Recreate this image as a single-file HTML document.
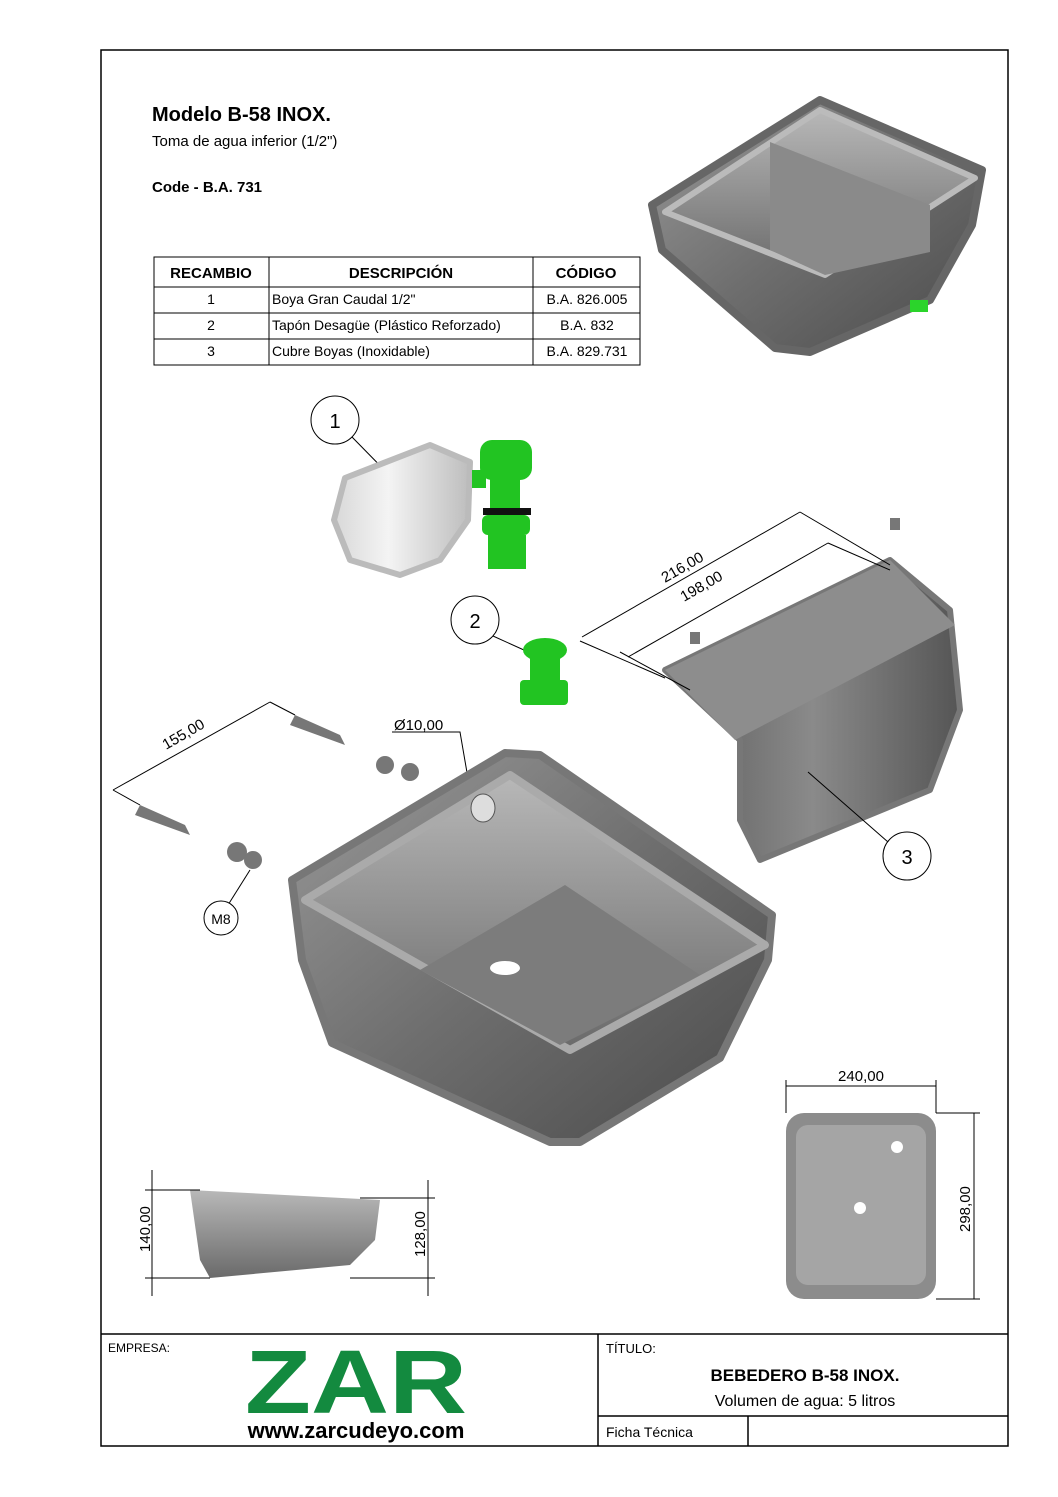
<!DOCTYPE html>
<html><head><meta charset="utf-8"><style>
html,body{margin:0;padding:0;background:#fff;}
svg{display:block;font-family:"Liberation Sans",sans-serif;}
</style></head><body>
<svg width="1058" height="1497" viewBox="0 0 1058 1497" xmlns="http://www.w3.org/2000/svg">
<defs>
<linearGradient id="st" x1="0" y1="0" x2="1" y2="1"><stop offset="0" stop-color="#9a9a9a"/><stop offset="0.5" stop-color="#6e6e6e"/><stop offset="1" stop-color="#4a4a4a"/></linearGradient>
<linearGradient id="st2" x1="0" y1="0" x2="1" y2="0"><stop offset="0" stop-color="#5a5a5a"/><stop offset="0.5" stop-color="#8a8a8a"/><stop offset="1" stop-color="#555"/></linearGradient>
<linearGradient id="in" x1="0" y1="0" x2="0" y2="1"><stop offset="0" stop-color="#b8b8b8"/><stop offset="1" stop-color="#6a6a6a"/></linearGradient>
<linearGradient id="wh" x1="0" y1="0" x2="1" y2="0"><stop offset="0" stop-color="#d8d8d8"/><stop offset="0.4" stop-color="#f4f4f4"/><stop offset="1" stop-color="#bdbdbd"/></linearGradient>
</defs>
<rect x="101" y="50" width="907" height="1396" fill="none" stroke="#000" stroke-width="1.5"/>
<text x="152" y="121" font-size="20" font-weight="bold">Modelo B-58 INOX.</text>
<text x="152" y="146" font-size="15">Toma de agua inferior (1/2")</text>
<text x="152" y="192" font-size="15" font-weight="bold">Code - B.A. 731</text>
<g stroke="#000" stroke-width="1" fill="none">
<rect x="154" y="257" width="486" height="108"/>
<line x1="154" y1="287" x2="640" y2="287"/><line x1="154" y1="313" x2="640" y2="313"/><line x1="154" y1="339" x2="640" y2="339"/>
<line x1="269" y1="257" x2="269" y2="365"/><line x1="533" y1="257" x2="533" y2="365"/>
</g>
<g font-size="15" font-weight="bold" text-anchor="middle"><text x="211" y="278">RECAMBIO</text><text x="401" y="278">DESCRIPCIÓN</text><text x="586" y="278">CÓDIGO</text></g>
<g font-size="14"><text x="211" y="304" text-anchor="middle">1</text><text x="272" y="304">Boya Gran Caudal 1/2"</text><text x="587" y="304" text-anchor="middle">B.A. 826.005</text>
<text x="211" y="330" text-anchor="middle">2</text><text x="272" y="330">Tapón Desagüe (Plástico Reforzado)</text><text x="587" y="330" text-anchor="middle">B.A. 832</text>
<text x="211" y="356" text-anchor="middle">3</text><text x="272" y="356">Cubre Boyas (Inoxidable)</text><text x="587" y="356" text-anchor="middle">B.A. 829.731</text></g>
<!-- top-right sink -->
<path d="M652 205 L820 100 L982 170 L972 225 L930 300 L810 352 L775 348 L662 250 Z" fill="url(#st)" stroke="#666" stroke-width="8" stroke-linejoin="round"/>
<path d="M665 212 L820 110 L975 178 L825 275 Z" fill="url(#in)" stroke="#bbb" stroke-width="6" stroke-linejoin="round"/>
<path d="M770 142 L930 205 L930 252 L825 275 L770 250 Z" fill="#8a8a8a"/>
<rect x="910" y="300" width="18" height="12" fill="#2bd42b"/>
<!-- float part 1 -->
<circle cx="335" cy="420" r="24" fill="#fff" stroke="#000"/><text x="335" y="428" font-size="20" text-anchor="middle">1</text>
<line x1="352" y1="437" x2="398" y2="484" stroke="#000"/>
<path d="M345 478 L430 445 L470 462 L468 520 L440 560 L400 575 L350 560 L334 520 Z" fill="url(#wh)" stroke="#bbb" stroke-width="6" stroke-linejoin="round"/>
<g fill="#22c422"><rect x="480" y="440" width="52" height="40" rx="12"/><rect x="490" y="478" width="30" height="30"/><rect x="472" y="470" width="14" height="18"/><rect x="482" y="515" width="48" height="20" rx="6"/><rect x="488" y="535" width="38" height="34"/></g>
<rect x="483" y="508" width="48" height="7" fill="#111"/>
<!-- part 2 -->
<circle cx="475" cy="620" r="24" fill="#fff" stroke="#000"/><text x="475" y="628" font-size="20" text-anchor="middle">2</text>
<line x1="493" y1="636" x2="535" y2="655" stroke="#000"/>
<g fill="#22c422"><ellipse cx="545" cy="650" rx="22" ry="12"/><rect x="530" y="650" width="30" height="30"/><rect x="520" y="680" width="48" height="25" rx="4"/></g>
<!-- cover 3 -->
<path d="M665 670 L890 560 L950 610 L960 710 L930 790 L760 860 L740 820 L740 740 Z" fill="url(#st2)" stroke="#777" stroke-width="6" stroke-linejoin="round"/>
<path d="M665 670 L890 560 L955 625 L735 740 Z" fill="#8d8d8d"/>
<circle cx="907" cy="856" r="24" fill="#fff" stroke="#000"/><text x="907" y="864" font-size="20" text-anchor="middle">3</text>
<line x1="888" y1="842" x2="808" y2="772" stroke="#000"/>
<g stroke="#000" fill="none"><line x1="582" y1="637" x2="800" y2="512"/><line x1="628" y1="657" x2="828" y2="543"/>
<line x1="580" y1="641" x2="665" y2="678"/><line x1="800" y1="512" x2="890" y2="565"/><line x1="620" y1="652" x2="690" y2="690"/><line x1="828" y1="543" x2="890" y2="570"/></g>
<text x="665" y="583" font-size="15" transform="rotate(-30 665 583)">216,00</text>
<text x="684" y="602" font-size="15" transform="rotate(-30 684 602)">198,00</text>
<!-- screws -->
<g fill="#777"><path d="M295 715 L340 735 L345 745 L290 725 Z"/><path d="M140 805 L185 825 L190 835 L135 815 Z"/><circle cx="385" cy="765" r="9"/><circle cx="410" cy="772" r="9"/><circle cx="237" cy="852" r="10"/><circle cx="253" cy="860" r="9"/><rect x="890" y="518" width="10" height="12"/><rect x="690" y="632" width="10" height="12"/></g>
<g stroke="#000" fill="none"><line x1="113" y1="790" x2="270" y2="702"/><line x1="113" y1="790" x2="140" y2="805"/><line x1="270" y1="702" x2="295" y2="715"/>
<path d="M392 732 L460 732 L470 790"/><path d="M250 870 L228 905"/></g>
<text x="166" y="750" font-size="15" transform="rotate(-30 166 750)">155,00</text>
<text x="394" y="730" font-size="15">Ø10,00</text>
<circle cx="221" cy="918" r="17" fill="#fff" stroke="#000"/><text x="221" y="924" font-size="14" text-anchor="middle">M8</text>
<!-- main sink -->
<path d="M292 880 L505 753 L540 755 L772 915 L768 960 L720 1058 L580 1142 L550 1142 L332 1043 L302 960 Z" fill="url(#st)" stroke="#777" stroke-width="8" stroke-linejoin="round"/>
<path d="M305 900 L510 775 L765 945 L570 1050 Z" fill="url(#in)" stroke="#aaa" stroke-width="8" stroke-linejoin="round"/>
<path d="M420 970 L565 885 L700 975 L560 1045 Z" fill="#7c7c7c"/>
<ellipse cx="505" cy="968" rx="15" ry="7" fill="#fff"/>
<ellipse cx="483" cy="808" rx="12" ry="14" fill="#ddd" stroke="#555"/>
<!-- side view -->
<path d="M190 1190 L380 1200 L375 1240 L350 1265 L210 1278 L200 1260 Z" fill="url(#in)"/>
<g stroke="#000" fill="none"><line x1="152" y1="1170" x2="152" y2="1296"/><line x1="145" y1="1190" x2="200" y2="1190"/><line x1="145" y1="1278" x2="210" y2="1278"/>
<line x1="428" y1="1180" x2="428" y2="1296"/><line x1="360" y1="1198" x2="435" y2="1198"/><line x1="350" y1="1278" x2="435" y2="1278"/></g>
<text x="150" y="1252" font-size="15" transform="rotate(-90 150 1252)">140,00</text>
<text x="425" y="1257" font-size="15" transform="rotate(-90 425 1257)">128,00</text>
<!-- top view -->
<rect x="786" y="1113" width="150" height="186" rx="18" fill="#8c8c8c"/>
<rect x="796" y="1125" width="130" height="160" rx="12" fill="#a5a5a5"/>
<circle cx="897" cy="1147" r="6" fill="#fff"/><circle cx="860" cy="1208" r="6" fill="#fff"/>
<g stroke="#000" fill="none"><line x1="786" y1="1080" x2="786" y2="1113"/><line x1="936" y1="1080" x2="936" y2="1113"/><line x1="786" y1="1086" x2="936" y2="1086"/>
<line x1="936" y1="1113" x2="980" y2="1113"/><line x1="936" y1="1299" x2="980" y2="1299"/><line x1="974" y1="1113" x2="974" y2="1299"/></g>
<text x="861" y="1081" font-size="15" text-anchor="middle">240,00</text>
<text x="970" y="1232" font-size="15" transform="rotate(-90 970 1232)">298,00</text>
<!-- title block -->
<g stroke="#000" stroke-width="1.5"><line x1="101" y1="1334" x2="1008" y2="1334"/><line x1="598" y1="1334" x2="598" y2="1446"/><line x1="598" y1="1416" x2="1008" y2="1416"/><line x1="748" y1="1416" x2="748" y2="1446"/></g>
<text x="108" y="1352" font-size="12">EMPRESA:</text>
<text x="356" y="1413" font-size="90" font-weight="bold" fill="#138a3f" text-anchor="middle" textLength="222" lengthAdjust="spacingAndGlyphs">ZAR</text>
<text x="356" y="1438" font-size="22" font-weight="bold" text-anchor="middle">www.zarcudeyo.com</text>
<text x="606" y="1353" font-size="13">TÍTULO:</text>
<text x="805" y="1381" font-size="17" font-weight="bold" text-anchor="middle">BEBEDERO B-58 INOX.</text>
<text x="805" y="1406" font-size="16" text-anchor="middle">Volumen de agua: 5 litros</text>
<text x="606" y="1437" font-size="14">Ficha Técnica</text>
</svg>
</body></html>
